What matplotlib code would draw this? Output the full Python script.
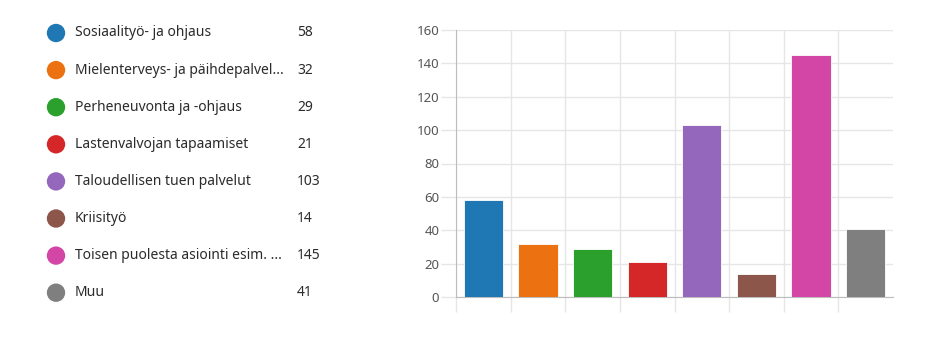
import matplotlib

matplotlib.use("Agg")
import matplotlib.pyplot as plt
import numpy as np

plt.rcParams["font.family"] = ["Noto Sans", "DejaVu Sans"]

# datos
categorias = [
    "Sosiaalityö- ja ohjaus",
    "Mielenterveys- ja päihdepalvel...",
    "Perheneuvonta ja -ohjaus",
    "Lastenvalvojan tapaamiset",
    "Taloudellisen tuen palvelut",
    "Kriisityö",
    "Toisen puolesta asiointi esim. ...",
    "Muu",
]
valores = [58, 32, 29, 21, 103, 14, 145, 41]
colores = ["#1f77b4", "#ec7211", "#2ca02c", "#d62728",
           "#9467bd", "#8c564b", "#d346a6", "#7f7f7f"]
ticks_y = [0, 20, 40, 60, 80, 100, 120, 140, 160]

ANCHO, ALTO = 949, 341
fig = plt.figure(figsize=(ANCHO / 100, ALTO / 100), dpi=100)

# leyenda a la izquierda, en coordenadas de píxel
ax_leg = fig.add_axes([0, 0, 1, 1])
ax_leg.set_xlim(0, ANCHO)
ax_leg.set_ylim(ALTO, 0)
ax_leg.axis("off")
y_leg = 33 + 37.1 * np.arange(len(categorias))
ax_leg.scatter([56] * len(categorias), y_leg, s=175, c=colores, edgecolors="none")
for y, nombre, valor in zip(y_leg, categorias, valores):
    ax_leg.text(75, y, nombre, fontsize=10, color="#2b2b2b", va="center", ha="left")
    ax_leg.text(297, y, str(valor), fontsize=10, color="#2b2b2b", va="center", ha="left")

# gráfico de barras
ax = fig.add_axes([456 / ANCHO, 1 - 297 / ALTO, 437 / ANCHO, 267 / ALTO])
x = np.arange(len(valores))
ax.bar(x, valores, width=0.72, color=colores, edgecolor="white", linewidth=0.6, zorder=3)
ax.set_xlim(-0.5, len(valores) - 0.5)
ax.set_ylim(0, 160)
ax.set_yticks(ticks_y)
ax.set_xticks(np.arange(len(valores)) - 0.5)
ax.set_xticklabels([])
ax.grid(True, color="#e6e6e6", linewidth=1, zorder=0)
for lado in ["top", "right"]:
    ax.spines[lado].set_visible(False)
ax.spines["left"].set_color("#bdbdbd")
ax.spines["bottom"].set_color("#bdbdbd")
ax.spines["left"].set_bounds(0, 160)
ax.tick_params(axis="x", length=11, color="#e6e6e6", width=1)
ax.tick_params(axis="y", length=11, color="#e6e6e6", width=1, pad=1,
               labelsize=9.5, labelcolor="#555555")

fig.savefig("out.png", dpi=100)
